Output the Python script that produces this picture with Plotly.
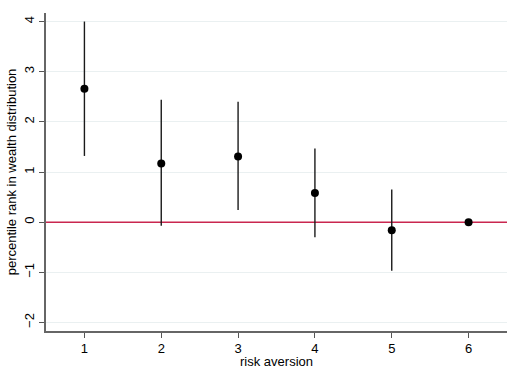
import plotly.graph_objects as go

risk_aversion = [1, 2, 3, 4, 5, 6]
estimate = [2.66, 1.17, 1.31, 0.58, -0.16, 0.0]
ci_upper = [4.0, 2.44, 2.40, 1.47, 0.65, 0.0]
ci_lower = [1.32, -0.07, 0.24, -0.30, -0.97, 0.0]
y_ticks = [-2, -1, 0, 1, 2, 3, 4]
x_ticks = [1, 2, 3, 4, 5, 6]
x_range = [0.5, 6.5]
ref_value = 0

err_plus = [u - e for u, e in zip(ci_upper, estimate)]
err_minus = [e - l for e, l in zip(estimate, ci_lower)]

fig = go.Figure()
fig.add_trace(go.Scatter(
    x=x_range, y=[ref_value, ref_value], mode="lines",
    line=dict(color="#c9264f", width=1.5), showlegend=False, hoverinfo="skip",
))
fig.add_trace(go.Scatter(
    x=risk_aversion, y=estimate, mode="markers",
    marker=dict(color="black", size=8),
    error_y=dict(type="data", symmetric=False, array=err_plus, arrayminus=err_minus,
                 color="#1a1a1a", thickness=1.4, width=0),
    showlegend=False,
))

fig.update_layout(
    width=507, height=369,
    margin=dict(l=46, r=0, t=13, b=38),
    paper_bgcolor="white", plot_bgcolor="white",
    font=dict(family="Liberation Sans, Arial, sans-serif", size=13, color="black"),
    xaxis=dict(range=x_range, tickvals=x_ticks, ticks="outside", ticklen=5,
               tickcolor="#555", showline=True, linecolor="#666", linewidth=1.5,
               showgrid=False, zeroline=False, tickfont=dict(size=13),
               title=dict(text="risk aversion", standoff=1, font=dict(size=13))),
    yaxis=dict(range=[-2.17, 4.17], tickvals=y_ticks, ticks="outside", ticklen=5,
               tickcolor="#555", showline=True, linecolor="#666", linewidth=1.5,
               showgrid=True, gridcolor="#eaf0f1", gridwidth=1, zeroline=False,
               tickangle=-90, tickfont=dict(size=13),
               title=dict(text="percentile rank in wealth distribution", standoff=2,
                          font=dict(size=13))),
)

fig.write_html("out.html")
